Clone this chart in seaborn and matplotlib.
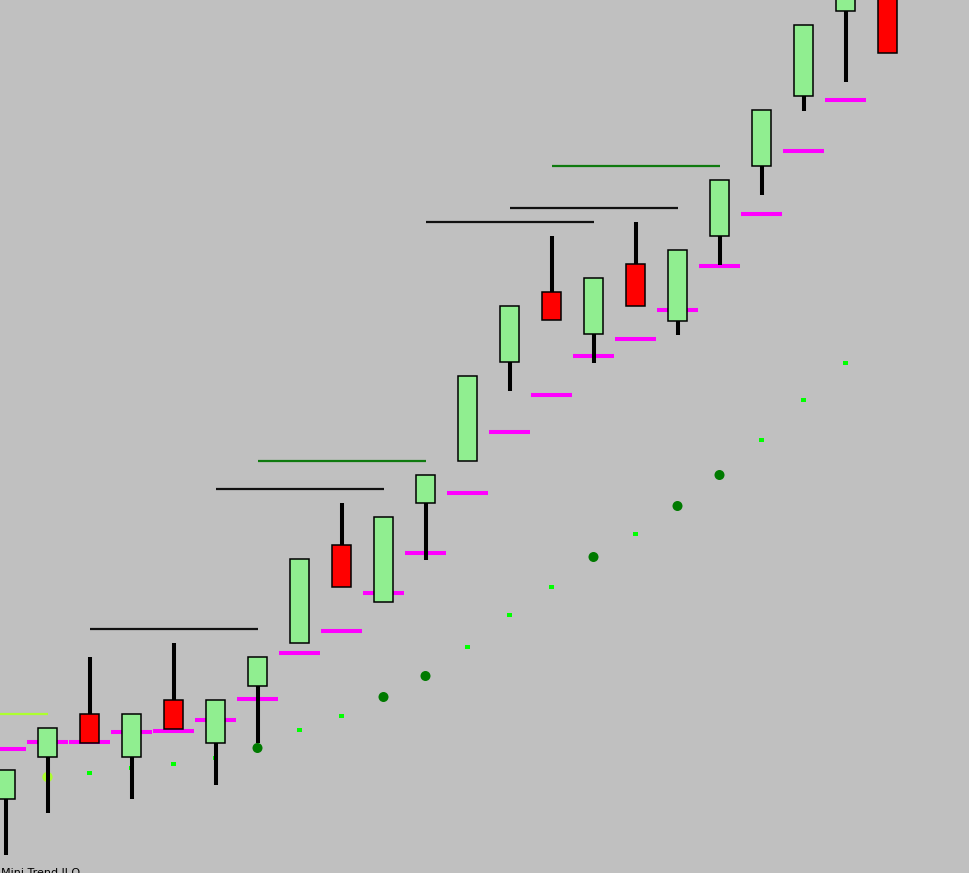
import seaborn as sns
import matplotlib.pyplot as plt
import numpy as np
import pandas as pd

# candle data (one bar every step, price in chart points)
bar_idx = list(range(22))
opens = [74.3, 116.3, 158.7, 116.3, 172.7, 130.3, 187.3, 229.7, 327.7, 271.3, 369.7,
         412.0, 510.7, 580.7, 538.7, 608.7, 552.3, 636.7, 706.7, 776.7, 861.7, 904.0]
closes = [102.7, 144.7, 130.3, 158.7, 144.3, 172.7, 215.7, 313.7, 285.7, 355.7, 397.7,
          496.7, 566.7, 552.7, 594.7, 566.7, 622.7, 692.7, 762.7, 847.7, 918.0, 819.7]
highs = [102.7, 144.7, 216.0, 158.7, 230.0, 172.7, 215.7, 313.7, 370.0, 355.7, 397.7,
         496.7, 566.7, 637.0, 594.7, 651.0, 622.7, 692.7, 762.7, 847.7, 918.0, 904.0]
lows = [18.0, 60.3, 130.3, 74.0, 144.3, 88.0, 130.0, 229.7, 285.7, 271.3, 313.0,
        412.0, 482.3, 552.7, 510.3, 566.7, 538.3, 608.0, 678.0, 762.3, 791.3, 819.7]

# magenta step line under each bar
stop_level = [124.0, 131.0, 131.0, 141.0, 142.0, 153.0, 174.0, 220.3, 242.3, 280.3, 320.3,
              380.0, 441.3, 478.3, 517.3, 534.3, 563.3, 607.3, 659.3, 722.3, 773.3, np.nan]

# trailing dots
dot_idx = list(range(1, 21))
dot_val = [96.0, 100.0, 105.3, 109.0, 115.3, 125.0, 143.0, 157.0, 176.0, 197.0,
           226.0, 258.0, 286.0, 316.0, 339.0, 367.0, 398.0, 433.0, 473.0, 510.0]
dot_kind = ['start', 'trail', 'trail', 'trail', 'trail', 'flip', 'trail', 'trail', 'flip', 'flip',
            'trail', 'trail', 'trail', 'flip', 'trail', 'flip', 'flip', 'trail', 'trail', 'trail']

# horizontal levels: start bar, end bar, value, colour
lvl_start = [-4, 2, 5, 6, 10, 12, 13]
lvl_end = [1, 6, 9, 10, 14, 16, 17]
lvl_val = [158.7, 243.7, 383.7, 411.7, 650.7, 664.7, 707.0]
lvl_color = ['#ADFF2F', '#111111', '#111111', '#0F7A0F', '#111111', '#111111', '#0F7A0F']

sns.set_style('white')
bg = '#C0C0C0'
fig = plt.figure(figsize=(9.69, 8.73), dpi=100, facecolor=bg)
ax = fig.add_axes([0, 0, 1, 1])
ax.set_facecolor(bg)

# levels
ax.hlines(lvl_val, lvl_start, lvl_end, colors=lvl_color, linewidth=1.6, zorder=1)

# dots
dots = pd.DataFrame({'bar': dot_idx, 'value': dot_val, 'kind': dot_kind})
sns.scatterplot(data=dots, x='bar', y='value', hue='kind', style='kind', size='kind',
                palette={'start': '#ADFF2F', 'trail': '#00FF00', 'flip': '#007A00'},
                markers={'start': 'o', 'trail': 's', 'flip': 'o'},
                sizes={'start': 55, 'trail': 9, 'flip': 52},
                linewidth=0, legend=False, zorder=2, ax=ax)

# magenta stops
x = np.array(bar_idx, dtype=float)
ax.hlines(stop_level, x - 0.49, x + 0.49, colors='#FF00FF', linewidth=2.9, zorder=3)

# wicks and bodies
ax.vlines(x, lows, highs, colors='black', linewidth=2.9, zorder=4)
o = np.array(opens)
c = np.array(closes)
colors = ['#90EE90' if cc >= oo else '#FF0000' for oo, cc in zip(o, c)]
ax.bar(x, np.abs(c - o), bottom=np.minimum(o, c), width=0.44, color=colors,
       edgecolor='black', linewidth=1.1, zorder=5)

ax.set_xlim(-5.5 / 42, (969 - 5.5) / 42)
ax.set_ylim(0, 873)
ax.axis('off')

fig.text(0.001, 1 - 868 / 873, 'Mini Trend ll O', fontsize=8, va='top', ha='left', color='black')

fig.savefig('out.png', dpi=100, facecolor=bg)
